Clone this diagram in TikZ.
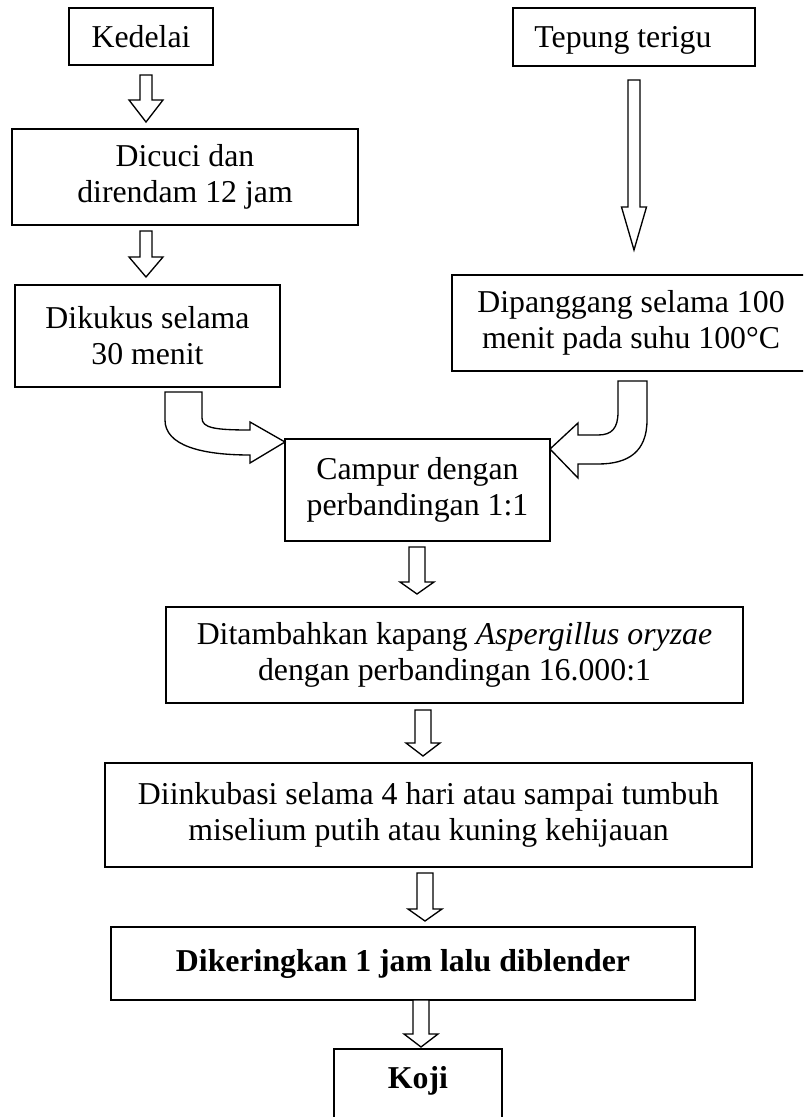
\documentclass[tikz,border=0pt]{standalone}
\usepackage{fontspec}
\setmainfont{Liberation Serif}
\tikzset{
  box/.style={draw, line width=1.2pt, inner sep=0pt, align=center,
    font=\fontsize{23.85pt}{27pt}\selectfont},
  blk/.style={draw, line width=1pt, line join=miter, fill=white},
}
% block down arrow: cx, ytop, yhead, ytip, half shaft, half head
\newcommand\blockdown[6]{%
  \draw[blk] (#1-#5,#2) -- (#1+#5,#2) -- (#1+#5,#3) -- (#1+#6,#3) -- (#1,#4)
    -- (#1-#6,#3) -- (#1-#5,#3) -- cycle;}
\begin{document}
\begin{tikzpicture}[x=0.75pt,y=-0.75pt]
\useasboundingbox (0,0) rectangle (803,1117);
\clip (0,0) rectangle (803,1117);

\node[box, minimum width=108pt, minimum height=42.75pt] (kedelai) at (141,36.5) {Kedelai};
\node[box, minimum width=181.5pt, minimum height=43.5pt, text depth=0pt] (tepung) at (634,37) {Tepung terigu\kern16.5pt};
\node[box, minimum width=259.5pt, minimum height=72pt] (dicuci) at (185,177) {Dicuci dan\\direndam 12 jam};
\node[box, minimum width=198.75pt, minimum height=76.5pt] (dikukus) at (147.5,336) {Dikukus selama\\30 menit};
\node[box, minimum width=268.5pt, minimum height=72pt] (dipanggang) at (631,323) {Dipanggang selama 100\\menit pada suhu 100°C};
\node[box, minimum width=198.75pt, minimum height=76.5pt] (campur) at (417.5,490) {Campur dengan\\perbandingan 1:1};
\node[box, minimum width=432.75pt, minimum height=72pt] (tambah) at (454.5,655) {Ditambahkan kapang \textit{Aspergillus oryzae}\\dengan perbandingan 16.000:1};
\node[box, minimum width=485.25pt, minimum height=78pt] (inkubasi) at (428.5,815) {Diinkubasi selama 4 hari atau sampai tumbuh\\miselium putih atau kuning kehijauan};
\node[box, minimum width=438pt, minimum height=54.75pt] (kering) at (403,963.5) {\textbf{Dikeringkan 1 jam lalu diblender}};
\node[box, minimum width=126pt, anchor=north, text height=30pt, text depth=27.75pt] (koji) at (418,1048) {\textbf{Koji}};

% straight block arrows
\blockdown{146}{75}{100}{122}{6}{17}
\blockdown{146}{231}{257}{277}{6}{17}
\blockdown{634}{80}{207}{250}{6}{12.5}
\blockdown{417}{547}{582}{594}{8}{17}
\blockdown{423}{710}{743}{756}{8}{17}
\blockdown{425}{873}{909}{921}{8}{17}
\blockdown{421}{1000}{1034}{1047}{8}{17}

% curved block arrows into Campur
\draw[blk] (165,392) -- (202,392) -- (202,418) .. controls (202,428) and (215,430) .. (250,430)
  -- (250,422) -- (285,442) -- (250,463) -- (250,455)
  .. controls (200,455) and (165,445) .. (165,420) -- cycle;
\draw[blk] (618,381) -- (647,381) -- (647,420) .. controls (647,452) and (628,464) .. (598,464)
  -- (578,464) -- (578,478) -- (550,449) -- (578,423) -- (578,435) -- (598,435)
  .. controls (612,435) and (618,428) .. (618,412) -- cycle;
\end{tikzpicture}
\end{document}
